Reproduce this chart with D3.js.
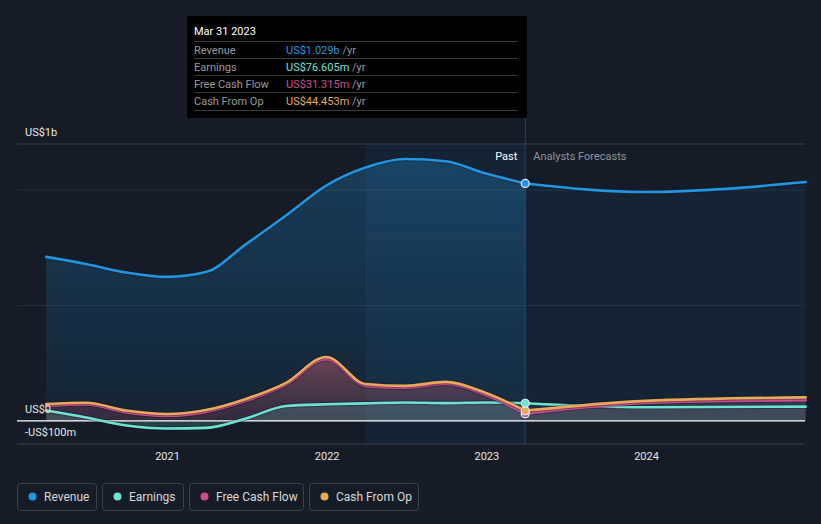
<!DOCTYPE html>
<html><head><meta charset="utf-8">
<script src="https://cdn.jsdelivr.net/npm/d3@7"></script>
<style>
html,body{margin:0;padding:0;background:#151c27;}
svg{display:block;font-family:Roboto,"Open Sans",sans-serif;}
</style></head>
<body><svg id="c" width="821" height="524"></svg>
<script>
// ---- data ----
const pastDates = ["2020-03-31","2020-06-30","2020-09-30","2020-12-31","2021-03-31","2021-06-30","2021-09-30","2021-12-31","2022-03-31","2022-06-30","2022-09-30","2022-12-31","2023-03-31"];
const revenuePast = [0.711e9,0.680e9,0.643e9,0.624e9,0.645e9,0.765e9,0.890e9,1.020e9,1.098e9,1.135e9,1.125e9,1.072e9,1.029e9];
const earningsPast = [0.045e9,0.015e9,-0.020e9,-0.033e9,-0.030e9,0.010e9,0.065e9,0.072e9,0.076e9,0.080e9,0.077e9,0.080e9,0.0766e9];
const fcfPast = [0.065e9,0.071e9,0.037e9,0.022e9,0.039e9,0.087e9,0.157e9,0.268e9,0.152e9,0.144e9,0.161e9,0.112e9,0.0313e9];
const cfoPast = [0.073e9,0.079e9,0.045e9,0.030e9,0.047e9,0.095e9,0.165e9,0.277e9,0.160e9,0.152e9,0.169e9,0.121e9,0.0445e9];
const fcDates = ["2023-03-31","2023-12-31","2024-12-31"];
const revenueFc = [1.029e9,0.992e9,1.035e9];
const earningsFc = [0.0766e9,0.059e9,0.062e9];
const fcfFc = [0.0313e9,0.078e9,0.090e9];
const cfoFc = [0.0445e9,0.087e9,0.102e9];
const xTicks = ["2021","2022","2023","2024"];
const yLabels = [[1.2e9,"US$1b"],[0,"US$0"],[-1e8,"-US$100m"]];
const gridVals = [1e9,5e8];
const tooltipRows = [["Revenue","US$1.029b"],["Earnings","US$76.605m"],["Free Cash Flow","US$31.315m"],["Cash From Op","US$44.453m"]];
const seriesNames = ["Revenue","Earnings","Free Cash Flow","Cash From Op"];
const colors = {"Revenue":"#2394df","Earnings":"#6ee3d3","Free Cash Flow":"#cc4f8c","Cash From Op":"#e8a95c"};

// ---- scales ----
const parse = d3.timeParse("%Y-%m-%d");
const x = d3.scaleTime().domain([new Date(2021,0,1), new Date(2024,0,1)]).range([167,646]);
const y = d3.scaleLinear().domain([-1e8,1.2e9]).range([444,144]);
const svg = d3.select("#c");
const defs = svg.append("defs");

const mk = (dates, vals) => dates.map((d,i)=>({d:parse(d), v:vals[i]}));
const rp = mk(pastDates,revenuePast), ep = mk(pastDates,earningsPast), fp = mk(pastDates,fcfPast), cp = mk(pastDates,cfoPast);
const rf = mk(fcDates,revenueFc), ef = mk(fcDates,earningsFc), ff = mk(fcDates,fcfFc), cf = mk(fcDates,cfoFc);

const curve = d3.curveMonotoneX;
const line = d3.line().x(p=>x(p.d)).y(p=>y(p.v)).curve(curve);
const area = d3.area().x(p=>x(p.d)).y0(y(0)).y1(p=>y(p.v)).curve(curve);

const g1 = defs.append("linearGradient").attr("id","revPast").attr("x1",0).attr("y1",0).attr("x2",0).attr("y2",1);
g1.append("stop").attr("offset","0%").attr("stop-color","#2394df").attr("stop-opacity",0.28);
g1.append("stop").attr("offset","100%").attr("stop-color","#2394df").attr("stop-opacity",0.06);
const g2 = defs.append("linearGradient").attr("id","cashPast").attr("x1",0).attr("y1",0).attr("x2",0).attr("y2",1);
g2.append("stop").attr("offset","0%").attr("stop-color","#d46a7a").attr("stop-opacity",0.45);
g2.append("stop").attr("offset","100%").attr("stop-color","#a04a6a").attr("stop-opacity",0.2);

const lastPast = parse(pastDates[pastDates.length-1]);
const bandStart = parse("2022-03-31");

// highlight band (last year)
svg.append("rect").attr("x",x(bandStart)).attr("y",y(1.2e9)).attr("width",x(lastPast)-x(bandStart)).attr("height",y(-1e8)-y(1.2e9))
  .attr("fill","#2394df").attr("opacity",0.07);

// revenue areas
const revArea = d3.area().x(p=>x(p.d)).y0(y(-1e8)).y1(p=>y(p.v)).curve(curve);
svg.append("path").attr("d",area(rp)).attr("fill","url(#revPast)");
svg.append("path").attr("d",area(rf)).attr("fill","#2394df").attr("opacity",0.07);

// gridlines
gridVals.forEach(v=>svg.append("line").attr("x1",17).attr("x2",805).attr("y1",y(v)).attr("y2",y(v)).attr("stroke","#ffffff").attr("stroke-opacity",0.07));
svg.append("line").attr("x1",17).attr("x2",805).attr("y1",y(1.2e9)).attr("y2",y(1.2e9)).attr("stroke","#3b414c").attr("stroke-width",1);
svg.append("line").attr("x1",17).attr("x2",805).attr("y1",y(-1e8)).attr("y2",y(-1e8)).attr("stroke","#3b414c").attr("stroke-width",1);

// vertical marker line
svg.append("line").attr("x1",x(lastPast)).attr("x2",x(lastPast)).attr("y1",118).attr("y2",y(-1e8)).attr("stroke","#2394df").attr("stroke-opacity",0.35).attr("stroke-width",1);

// cash/earnings areas
svg.append("path").attr("d",area(cp)).attr("fill","url(#cashPast)");
svg.append("path").attr("d",area(ep)).attr("fill","#6ee3d3").attr("opacity",0.18);
svg.append("path").attr("d",area(cf)).attr("fill","#8a8f9a").attr("opacity",0.25);
svg.append("path").attr("d",area(ef)).attr("fill","#8a8f9a").attr("opacity",0.15);

// zero line
svg.append("line").attr("x1",17).attr("x2",805).attr("y1",y(0)).attr("y2",y(0)).attr("stroke","#ffffff").attr("stroke-width",1.2);

// lines
function drawLine(data,col,w){
  svg.append("path").attr("d",line(data)).attr("fill","none").attr("stroke","#10141c").attr("stroke-opacity",0.35).attr("stroke-width",w+2);
  svg.append("path").attr("d",line(data)).attr("fill","none").attr("stroke",col).attr("stroke-width",w).attr("stroke-linecap","round");
}
drawLine(rp,colors["Revenue"],2.6); drawLine(rf,colors["Revenue"],2.6);
drawLine(ep,colors["Earnings"],2.6); drawLine(ef,colors["Earnings"],2.6);
drawLine(fp,colors["Free Cash Flow"],2.6); drawLine(ff,colors["Free Cash Flow"],2.6);
drawLine(cp,colors["Cash From Op"],2.6); drawLine(cf,colors["Cash From Op"],2.6);

// end dots
[[fp,"Free Cash Flow"],[cp,"Cash From Op"],[ep,"Earnings"],[rp,"Revenue"]].forEach(([d,n])=>{
  const p=d[d.length-1];
  svg.append("circle").attr("cx",x(p.d)).attr("cy",y(p.v)).attr("r",4).attr("fill",colors[n]).attr("stroke","#e8eef5").attr("stroke-width",1.2);
});

// y labels
yLabels.forEach(([v,t])=>svg.append("text").attr("x",25).attr("y",y(v)-8).attr("fill","#e6e6e6").attr("font-size",11).text(t));

// x axis
const xa = svg.append("g").attr("transform",`translate(0,${y(-1e8)})`)
  .call(d3.axisBottom(x).tickValues(xTicks.map(t=>new Date(+t,0,1))).tickFormat(d3.timeFormat("%Y")).tickSize(0).tickPadding(8));
xa.select(".domain").remove();
xa.selectAll("text").attr("fill","#e6e6e6").attr("font-size",11).attr("font-family","Roboto,sans-serif");

// Past / forecast labels
svg.append("text").attr("x",x(lastPast)-8).attr("y",160).attr("text-anchor","end").attr("fill","#ffffff").attr("font-size",11).text("Past");
svg.append("text").attr("x",x(lastPast)+8).attr("y",160).attr("fill","#8e949c").attr("font-size",11).text("Analysts Forecasts");

// tooltip
const tt = svg.append("g");
tt.append("rect").attr("x",187).attr("y",16).attr("width",340).attr("height",102).attr("fill","#000000");
tt.append("text").attr("x",194).attr("y",35).attr("fill","#ffffff").attr("font-size",11).text("Mar 31 2023");
const rowY = [41.5,58.5,75.5,92.5,110.5];
rowY.forEach(v=>tt.append("line").attr("x1",194).attr("x2",518).attr("y1",v).attr("y2",v).attr("stroke","#3a3a3a").attr("stroke-width",1));
tooltipRows.forEach(([lab,val],i)=>{
  const ty = rowY[i]+12;
  tt.append("text").attr("x",194).attr("y",ty).attr("fill","#9a9a9a").attr("font-size",11).text(lab);
  const t = tt.append("text").attr("x",286).attr("y",ty).attr("font-size",11);
  t.append("tspan").attr("fill",colors[lab]).text(val);
  t.append("tspan").attr("fill","#9a9a9a").text(" /yr");
});

// legend
const legW = [80,82,115,110];
let lx = 17;
seriesNames.forEach((n,i)=>{
  const g = svg.append("g").attr("transform",`translate(${lx},483)`);
  g.append("rect").attr("x",0.5).attr("y",0.5).attr("width",legW[i]-1).attr("height",27).attr("rx",3).attr("fill","none").attr("stroke","#3b414c");
  g.append("circle").attr("cx",15.5).attr("cy",13.5).attr("r",4).attr("fill",colors[n]);
  g.append("text").attr("x",27).attr("y",18).attr("fill","#d8d8d8").attr("font-size",12).text(n);
  lx += legW[i]+5;
});
</script></body></html>
